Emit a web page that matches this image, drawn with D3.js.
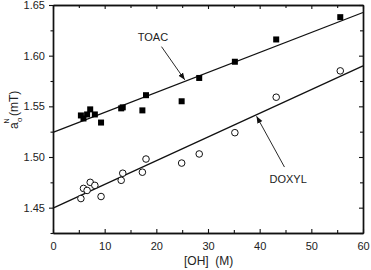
<!DOCTYPE html>
<html>
<head>
<meta charset="utf-8">
<script src="https://cdn.jsdelivr.net/npm/d3@7"></script>
<style>
  body { margin: 0; background: #fff; }
  svg { display: block; font-family: "Liberation Sans", Arial, sans-serif; }
  text { fill: #222; }
</style>
</head>
<body>
<div id="chart"></div>
<script>
// values
const ohToac = [5.4, 5.9, 6.6, 7.2, 8.1, 9.3, 13.2, 13.5, 17.3, 18.0, 24.9, 28.3, 35.2, 43.2, 55.6];
const aToac  = [1.541, 1.538, 1.542, 1.547, 1.542, 1.534, 1.548, 1.549, 1.546, 1.561, 1.555, 1.578, 1.594, 1.616, 1.638];
const ohDoxyl = [5.4, 5.9, 6.6, 7.2, 8.1, 9.3, 13.2, 13.5, 17.3, 18.0, 24.9, 28.3, 35.2, 43.2, 55.6];
const aDoxyl  = [1.459, 1.469, 1.467, 1.475, 1.472, 1.461, 1.477, 1.484, 1.485, 1.498, 1.494, 1.503, 1.524, 1.559, 1.585];
// linear fits [intercept, slope]
const fitToac = [1.5244, 0.00197];
const fitDoxyl = [1.4495, 0.00234];
const xTicks = [0, 10, 20, 30, 40, 50, 60];
const yTicks = [1.45, 1.50, 1.55, 1.60, 1.65];

const width = 371, height = 270;
const margin = {top: 5, right: 8, bottom: 37, left: 53};

const svg = d3.select('#chart').append('svg')
    .attr('width', width)
    .attr('height', height);

const x = d3.scaleLinear().domain([0, 60]).range([margin.left, width - margin.right]);
const y = d3.scaleLinear().domain([1.425, 1.65]).range([height - margin.bottom, margin.top]);

const minorX = d3.range(5, 60, 10);
const minorY = d3.range(1.425, 1.65, 0.05).map(v => +v.toFixed(3));

// axes: left ticks outward, others inward
const axes = [
    {ax: d3.axisBottom(x).tickValues(xTicks).tickSize(-4).tickPadding(9).tickFormat(d3.format('d')), pos: `translate(0,${y.range()[0]})`},
    {ax: d3.axisBottom(x).tickValues(minorX).tickSize(-3).tickFormat(''), pos: `translate(0,${y.range()[0]})`},
    {ax: d3.axisTop(x).tickValues(xTicks).tickSize(-4).tickFormat(''), pos: `translate(0,${y.range()[1]})`},
    {ax: d3.axisTop(x).tickValues(minorX).tickSize(-3).tickFormat(''), pos: `translate(0,${y.range()[1]})`},
    {ax: d3.axisLeft(y).tickValues(yTicks).tickSize(4).tickPadding(4).tickFormat(d3.format('.2f')), pos: `translate(${x.range()[0]},0)`},
    {ax: d3.axisLeft(y).tickValues(minorY).tickSize(2.5).tickFormat(''), pos: `translate(${x.range()[0]},0)`},
    {ax: d3.axisRight(y).tickValues(yTicks).tickSize(-4).tickFormat(''), pos: `translate(${x.range()[1]},0)`},
    {ax: d3.axisRight(y).tickValues(minorY).tickSize(-3).tickFormat(''), pos: `translate(${x.range()[1]},0)`}
];
axes.forEach(a => {
    const g = svg.append('g').attr('transform', a.pos).call(a.ax.tickSizeOuter(0));
    g.select('.domain').attr('stroke', '#111').attr('stroke-width', 1.4);
    g.selectAll('.tick line').attr('stroke', '#111').attr('stroke-width', 1.1);
    g.selectAll('.tick text').attr('font-size', 11).attr('fill', '#222')
        .attr('font-family', '"Liberation Sans", Arial, sans-serif');
});

// fit lines
const line = d3.line().x(d => x(d[0])).y(d => y(d[1]));
[fitToac, fitDoxyl].forEach(f => {
    svg.append('path')
        .attr('d', line(x.domain().map(v => [v, f[0] + f[1] * v])))
        .attr('fill', 'none')
        .attr('stroke', '#111')
        .attr('stroke-width', 1.3);
});

// TOAC filled squares
const sq = 6;
svg.selectAll('rect.toac')
    .data(d3.zip(ohToac, aToac))
    .join('rect')
    .classed('toac', true)
    .attr('x', d => x(d[0]) - sq / 2)
    .attr('y', d => y(d[1]) - sq / 2)
    .attr('width', sq).attr('height', sq)
    .attr('fill', '#000');

// DOXYL open circles
svg.selectAll('circle.doxyl')
    .data(d3.zip(ohDoxyl, aDoxyl))
    .join('circle')
    .classed('doxyl', true)
    .attr('cx', d => x(d[0]))
    .attr('cy', d => y(d[1]))
    .attr('r', 3.3)
    .attr('fill', '#fff')
    .attr('stroke', '#111')
    .attr('stroke-width', 1);

// arrow annotations
svg.append('defs').append('marker')
    .attr('id', 'arr')
    .attr('viewBox', '0 0 10 10')
    .attr('refX', 10).attr('refY', 5)
    .attr('markerWidth', 7).attr('markerHeight', 7)
    .attr('markerUnits', 'userSpaceOnUse')
    .attr('orient', 'auto')
    .append('path')
    .attr('d', 'M0,1 L10,5 L0,9 Z')
    .attr('fill', '#111');

const notes = [
    {label: 'TOAC', tx: 16.4, ty: 1.6145, from: [21.0, 1.6089], at: 25.5, fit: fitToac},
    {label: 'DOXYL', tx: 41.9, ty: 1.4743, from: [44.8, 1.4901], at: 39.4, fit: fitDoxyl}
];
notes.forEach(n => {
    svg.append('line')
        .attr('x1', x(n.from[0])).attr('y1', y(n.from[1]))
        .attr('x2', x(n.at)).attr('y2', y(n.fit[0] + n.fit[1] * n.at) - (n.label === 'TOAC' ? 1.5 : -1.5))
        .attr('stroke', '#111')
        .attr('stroke-width', 0.9)
        .attr('marker-end', 'url(#arr)');
    svg.append('text')
        .attr('x', x(n.tx)).attr('y', y(n.ty))
        .attr('font-size', 11)
        .text(n.label);
});

// x axis title
svg.append('text')
    .attr('x', 184).attr('y', 265)
    .attr('font-size', 12)
    .attr('xml:space', 'preserve')
    .text('[OH]  (M)');

// y axis title: a with stacked sub o / sup N, then (mT)
const yl = svg.append('g').attr('transform', 'translate(18,0) rotate(-90)');
yl.append('text').attr('x', -129).attr('y', 0).attr('font-size', 12).text('a');
yl.append('text').attr('x', -122).attr('y', 4).attr('font-size', 8).text('o');
yl.append('text').attr('x', -123.5).attr('y', -9).attr('font-size', 7).text('N');
yl.append('text').attr('x', -116).attr('y', 0).attr('font-size', 12).text('(mT)');
</script>
</body>
</html>
